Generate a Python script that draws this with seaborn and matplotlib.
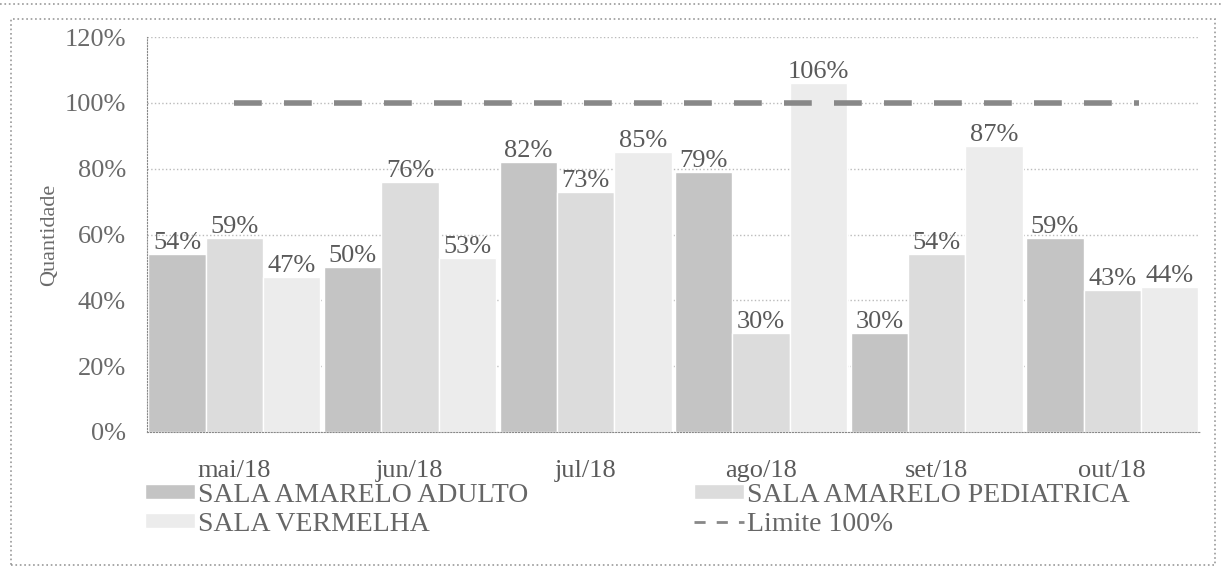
import pandas as pd
import numpy as np
import matplotlib
matplotlib.use('Agg')
import matplotlib.pyplot as plt
import seaborn as sns
from matplotlib.patches import Patch
from matplotlib.lines import Line2D

meses = ['mai/18', 'jun/18', 'jul/18', 'ago/18', 'set/18', 'out/18']
series = ['SALA AMARELO ADULTO', 'SALA AMARELO PEDIATRICA', 'SALA VERMELHA']
adulto = [54, 50, 82, 79, 30, 59]
pediatrica = [59, 76, 73, 30, 54, 43]
vermelha = [47, 53, 85, 106, 87, 44]
limite = 100
yticks = [0, 20, 40, 60, 80, 100, 120]

sns.set_style('white')
plt.rcParams['font.family'] = ['Liberation Serif', 'DejaVu Serif']

df = pd.DataFrame({'Mes': meses * 3,
                   'Sala': np.repeat(series, len(meses)),
                   'Valor': adulto + pediatrica + vermelha})

cores = ['#c4c4c4', '#dcdcdc', '#ececec']
cinza_txt = '#5a5a5a'

fig = plt.figure(figsize=(12.22, 5.72), dpi=100)
ax = fig.add_axes([0.12, 0.245, 0.862, 0.69])

sns.barplot(data=df, x='Mes', y='Valor', hue='Sala', palette=cores,
            width=0.98, gap=0, ax=ax, legend=False, saturation=1)

for cont in ax.containers:
    ax.bar_label(cont, labels=[f'{int(v)}%' for v in cont.datavalues],
                 fontsize=19, color=cinza_txt, padding=0)

# linha limite 100%
ax.plot([0, len(meses) - 1 + 0.15], [limite, limite], color='#888888',
        lw=4, dashes=(5, 4), zorder=5)

ax.set_ylim(0, 120)
ax.set_xlim(-0.5, len(meses) - 0.5)
ax.set_yticks(yticks)
ax.set_yticklabels([f'{v}%' for v in yticks], fontsize=19, color='#6a6a6a')
ax.set_xticklabels(meses, fontsize=19, color=cinza_txt)
ax.set_xlabel('')
ax.set_ylabel('Quantidade', fontsize=16, color='#6a6a6a', labelpad=4)
ax.yaxis.grid(True, color='#bbbbbb', linestyle=':', lw=1)
ax.set_axisbelow(True)
for s in ['top', 'right']:
    ax.spines[s].set_visible(False)
for s in ['left', 'bottom']:
    ax.spines[s].set_color('#888888')
    ax.spines[s].set_linestyle(':')
ax.tick_params(axis='both', length=5, color='#888888', direction='out', pad=10)
ax.set_xticks(np.arange(-0.5, len(meses)), minor=True)
ax.tick_params(axis='x', which='major', length=0, pad=20)
ax.tick_params(axis='x', which='minor', length=6, color='#888888')

# legenda
handles = [Patch(facecolor=cores[0]), Patch(facecolor=cores[1]),
           Patch(facecolor=cores[2]),
           Line2D([0], [0], color='#888888', lw=2, dashes=(4, 4))]
labels = [series[0], series[1], series[2], 'Limite 100%']
order = [0, 2, 1, 3]
fig.legend([handles[i] for i in order], [labels[i] for i in order],
           loc='upper left', bbox_to_anchor=(0.098, 0.2), ncol=2,
           frameon=False, fontsize=20, labelcolor='#666666',
           columnspacing=6.0, handlelength=1.8, handletextpad=0.1,
           labelspacing=0.15, handleheight=0.45)

# moldura
fig.patches.append(plt.Rectangle((0.009, 0.012), 0.985, 0.955,
                                 transform=fig.transFigure, fill=False,
                                 edgecolor='#999999', lw=1.2, linestyle=':'))
fig.lines.append(Line2D([0, 1], [0.993, 0.993], transform=fig.transFigure,
                        color='#999999', lw=1.2, linestyle=':'))

fig.savefig('out.png', dpi=100)
